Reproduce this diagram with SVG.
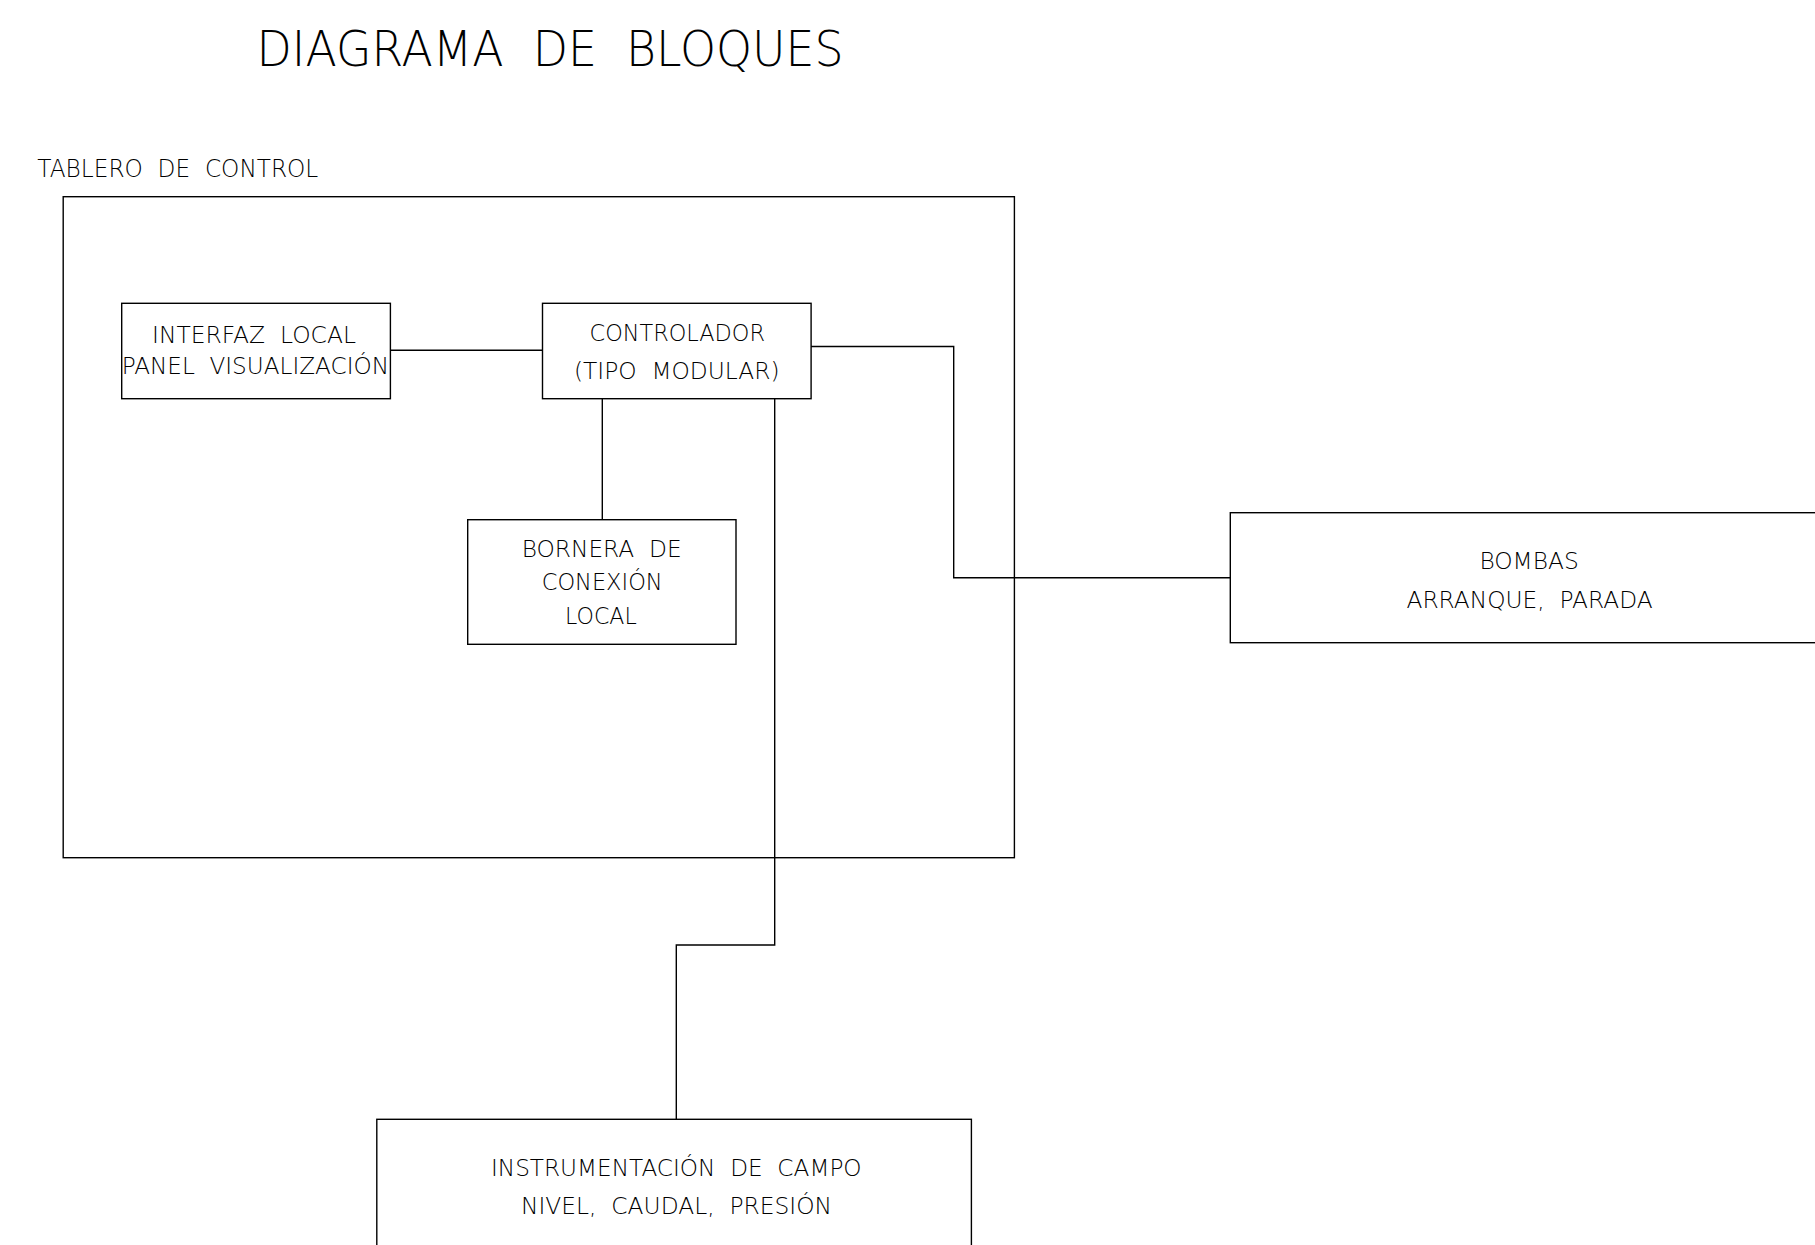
<svg xmlns="http://www.w3.org/2000/svg" width="1815" height="1245" viewBox="0 0 1815 1245">
<style>
.box{fill:none;stroke:#000;stroke-width:1.4}
.wire{fill:none;stroke:#000;stroke-width:1.4}
text{font-family:"DejaVu Sans","Liberation Sans",sans-serif;font-weight:200;fill:#000;white-space:pre}
.t{font-size:23px}
</style>
<rect width="1815" height="1245" fill="#fff"/>
<g id="title">
<text x="256.6" y="65.7" style="font-size:50px" textLength="587" lengthAdjust="spacingAndGlyphs">DIAGRAMA  DE  BLOQUES</text>
</g>
<g id="tablero">
<rect class="box" x="63.2" y="196.7" width="951.2" height="661"/>
<text x="37.3" y="176.7" style="font-size:24px" textLength="281" lengthAdjust="spacingAndGlyphs">TABLERO  DE  CONTROL</text>
</g>
<g id="interfaz">
<rect class="box" x="121.7" y="303.3" width="268.7" height="95.4"/>
<text class="t" x="152" y="343.3" textLength="204" lengthAdjust="spacingAndGlyphs">INTERFAZ  LOCAL</text>
<text class="t" x="121.7" y="374.3" textLength="267.3" lengthAdjust="spacingAndGlyphs">PANEL  VISUALIZACIÓN</text>
</g>
<g id="controlador">
<rect class="box" x="542.5" y="303.3" width="268.6" height="95.4"/>
<text class="t" x="589.5" y="340.7" textLength="175.5" lengthAdjust="spacingAndGlyphs">CONTROLADOR</text>
<text class="t" x="574" y="379" textLength="205.6" lengthAdjust="spacingAndGlyphs">(TIPO  MODULAR)</text>
</g>
<g id="bornera">
<rect class="box" x="467.7" y="519.7" width="268.3" height="124.6"/>
<text class="t" x="521.7" y="557.3" textLength="160" lengthAdjust="spacingAndGlyphs">BORNERA  DE</text>
<text class="t" x="541.7" y="590" textLength="121" lengthAdjust="spacingAndGlyphs">CONEXIÓN</text>
<text class="t" x="565" y="624" textLength="71.7" lengthAdjust="spacingAndGlyphs">LOCAL</text>
</g>
<g id="bombas">
<rect class="box" x="1230.3" y="512.7" width="620" height="130"/>
<text class="t" x="1479.4" y="569" textLength="99.3" lengthAdjust="spacingAndGlyphs">BOMBAS</text>
<text class="t" x="1406.5" y="608.3" textLength="246.2" lengthAdjust="spacingAndGlyphs">ARRANQUE,  PARADA</text>
</g>
<g id="instrumentacion">
<rect class="box" x="376.8" y="1119.3" width="594.6" height="160"/>
<text class="t" x="491" y="1176" textLength="370.6" lengthAdjust="spacingAndGlyphs">INSTRUMENTACIÓN  DE  CAMPO</text>
<text class="t" x="521" y="1214.3" textLength="311" lengthAdjust="spacingAndGlyphs">NIVEL,  CAUDAL,  PRESIÓN</text>
</g>
<g id="connectors">
<path class="wire" d="M390.4 350.3 H542.5"/>
<path class="wire" d="M811.1 346.5 H953.7 V577.7 H1230.3"/>
<path class="wire" d="M602.3 398.7 V519.7"/>
<path class="wire" d="M774.7 398.7 V945 H676.3 V1119.3"/>
</g>
</svg>
